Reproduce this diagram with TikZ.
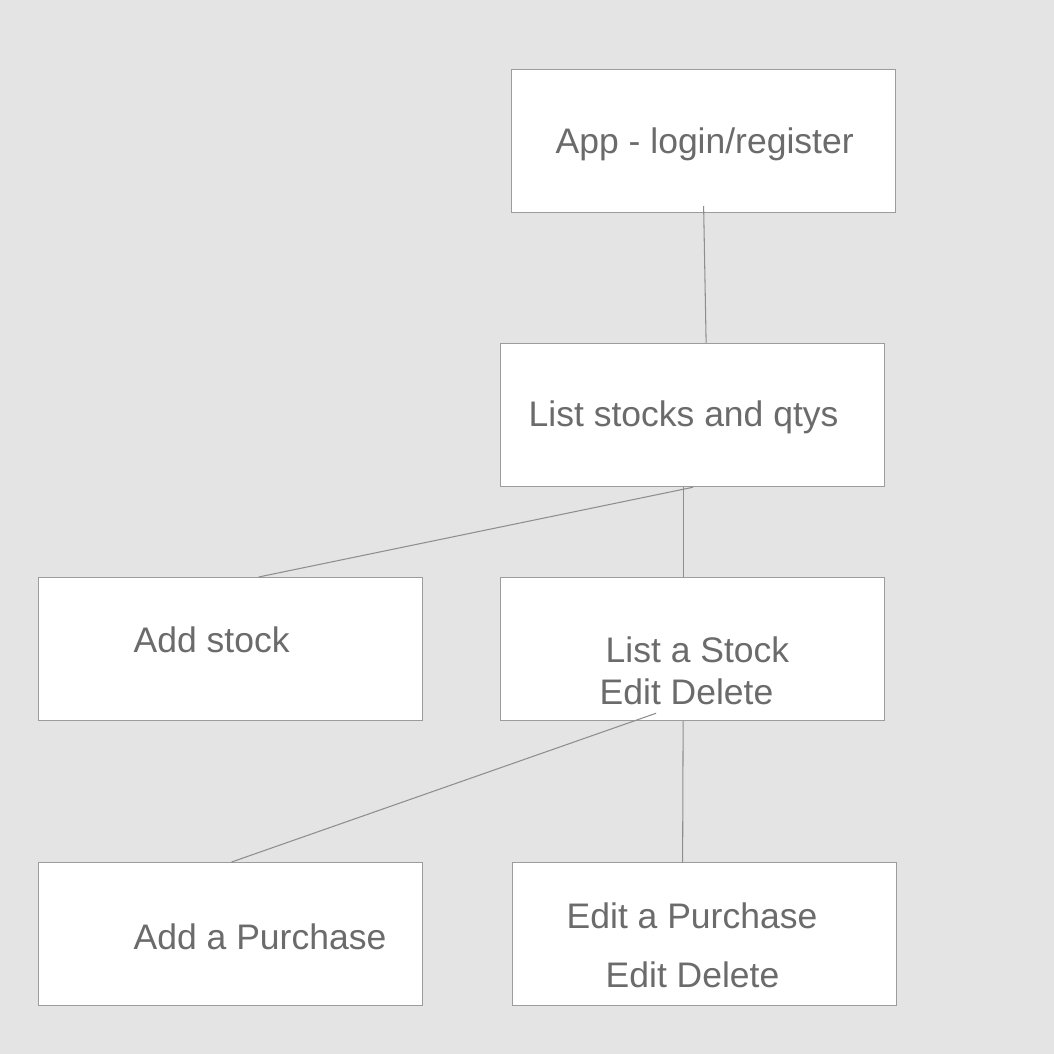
\documentclass[tikz,border=0pt]{standalone}
\usepackage{fontspec}
\setmainfont{Liberation Sans}
\usetikzlibrary{positioning}
\definecolor{bggray}{HTML}{E4E4E4}
\definecolor{boxgray}{HTML}{9C9C9C}
\definecolor{linegray}{HTML}{8E8E8E}
\definecolor{txtgray}{HTML}{6B6B6B}

\begin{document}
\begin{tikzpicture}[x=0.1mm,y=-0.1mm,
    box/.style={draw=boxgray,fill=white,line width=0.35pt,minimum width=38.4mm,minimum height=14.3mm,inner sep=0pt,anchor=north west},
    txt/.style={text=txtgray,font=\fontsize{10.1}{12}\selectfont,inner sep=0pt,anchor=base west},
    link/.style={draw=linegray,line width=0.3pt}]
  \fill[bggray] (0,0) rectangle (1054,1054);
  \useasboundingbox (0,0) rectangle (1054,1054);
  % boxes
  \node[box] (app) at (511,69) {};
  \node[box] (list) at (500,343) {};
  \node[box] (stock) at (38,577) {};
  \node[box] (onestock) at (500,577) {};
  \node[box] (purch) at (38,862) {};
  \node[box] (editpurch) at (512,862) {};
  % texts
  \node[txt] (apptxt) at (555,154) {App - login/register};
  \node[txt] (listtxt) at (528,427) {List stocks and qtys};
  \node[txt] (stocktxt) at (133,652) {Add stock};
  \node[txt] (onestocktxt) at (605,662) {List a Stock};
  \node[txt] (onestockops) at (599,704) {Edit Delete};
  \node[txt] (purchtxt) at (133,949) {Add a Purchase};
  \node[txt] (editpurchtxt) at (566,928) {Edit a Purchase};
  \node[txt] (editpurchops) at (605,987) {Edit Delete};
  % connectors
  \draw[link] ([yshift=0.7mm]app.south) -- ([xshift=1.35mm]list.north);
  \draw[link] ([xshift=0.05mm]list.south) -- ([xshift=2.8mm]stock.north);
  \draw[link] ([xshift=-0.95mm]list.south) -- ([xshift=-0.95mm]onestock.north);
  \draw[link] ([xshift=-3.65mm,yshift=0.8mm]onestock.south) -- ([xshift=0.1mm]purch.north);
  \draw[link] ([xshift=-0.95mm]onestock.south) -- ([xshift=-2.2mm]editpurch.north);
\end{tikzpicture}
\end{document}
